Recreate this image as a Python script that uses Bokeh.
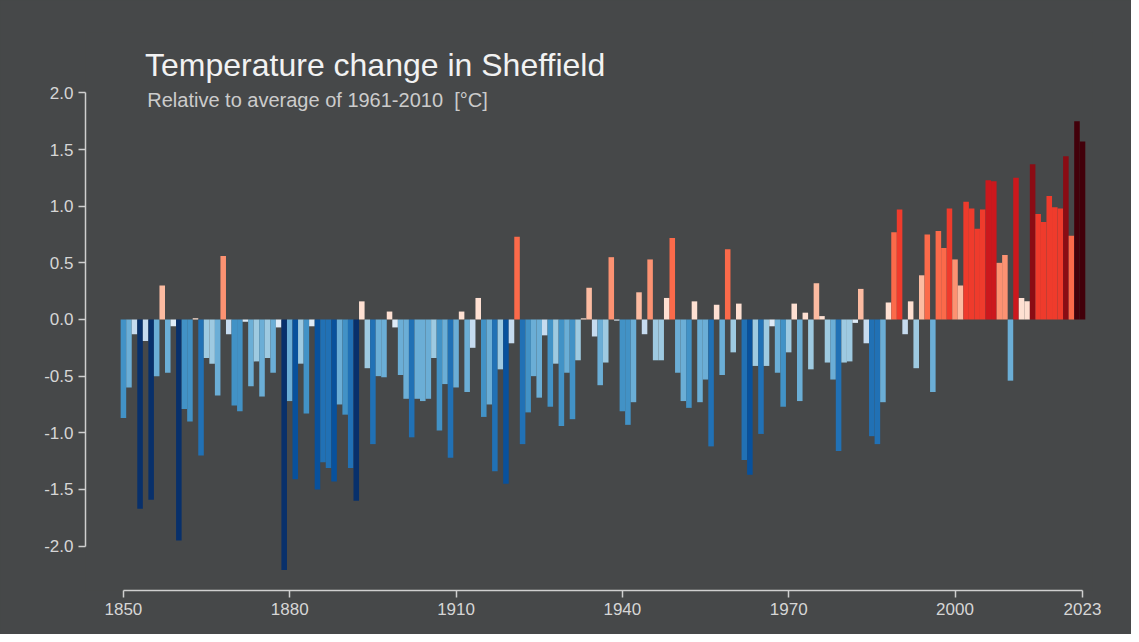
from bokeh.plotting import figure
from bokeh.models import (ColumnDataSource, LinearColorMapper, Range1d, FixedTicker, Label)
from bokeh.embed import file_html
from bokeh.resources import INLINE

# ---------------- data ----------------
years = list(range(1850, 2024))
temps = [
    -0.87, -0.60, -0.13, -1.67, -0.19, -1.59, -0.50, 0.30, -0.47, -0.06,   # 1850s
    -1.95, -0.79, -0.90, 0.01, -1.20, -0.34, -0.39, -0.67, 0.56, -0.13,    # 1860s
    -0.76, -0.81, -0.02, -0.59, -0.37, -0.68, -0.34, -0.47, -0.07, -2.21,  # 1870s
    -0.72, -1.41, -0.39, -0.83, -0.06, -1.50, -1.26, -1.31, -1.43, -0.75,  # 1880s
    -0.84, -1.31, -1.60, 0.16, -0.43, -1.10, -0.50, -0.51, 0.07, -0.07,    # 1890s
    -0.49, -0.70, -1.04, -0.70, -0.72, -0.70, -0.34, -0.98, -0.57, -1.22,  # 1900s
    -0.60, 0.07, -0.64, -0.25, 0.19, -0.86, -0.75, -1.34, -0.44, -1.45,    # 1910s
    -0.21, 0.73, -1.10, -0.82, -0.50, -0.69, -0.14, -0.77, -0.39, -0.94,   # 1920s
    -0.47, -0.88, -0.36, 0.01, 0.28, -0.15, -0.58, -0.38, 0.55, -0.01,     # 1930s
    -0.81, -0.93, -0.73, 0.24, -0.13, 0.53, -0.36, -0.36, 0.19, 0.72,      # 1940s
    -0.47, -0.72, -0.78, 0.16, -0.73, -0.53, -1.12, 0.13, -0.49, 0.62,     # 1950s
    -0.29, 0.14, -1.24, -1.37, -0.41, -1.01, -0.41, -0.06, -0.47, -0.77,   # 1960s
    -0.29, 0.14, -0.72, 0.06, -0.44, 0.32, 0.03, -0.38, -0.53, -1.16,      # 1970s
    -0.38, -0.37, -0.03, 0.27, -0.21, -1.03, -1.10, -0.73, 0.15, 0.77,     # 1980s
    0.97, -0.13, 0.16, -0.43, 0.39, 0.75, -0.64, 0.78, 0.63, 0.98,         # 1990s
    0.53, 0.30, 1.04, 0.98, 0.80, 0.97, 1.23, 1.22, 0.50, 0.57,            # 2000s
    -0.54, 1.25, 0.19, 0.16, 1.37, 0.93, 0.86, 1.09, 0.99, 0.98,           # 2010s
    1.44, 0.74, 1.75, 1.57,                                                # 2020s
]
x_ticks = [1850, 1880, 1910, 1940, 1970, 2000, 2023]
x_tick_labels = ["1850", "1880", "1910", "1940", "1970", "2000", "2023"]
y_ticks = [-2.0, -1.5, -1.0, -0.5, 0.0, 0.5, 1.0, 1.5, 2.0]
y_tick_labels = ["-2.0", "-1.5", "-1.0", "-0.5", "0.0", "0.5", "1.0", "1.5", "2.0"]
title_text = "Temperature change in Sheffield"
subtitle_text = "Relative to average of 1961-2010 \u00a0[\u00b0C]"

# ---------------- colour scale ----------------
classes = [
    (-1.55, "#08306b"), (-1.35, "#08519c"), (-1.00, "#2171b5"), (-0.75, "#4292c6"),
    (-0.45, "#6baed6"), (-0.25, "#9ecae1"), (-0.10, "#c6dbef"), (0.00, "#deebf7"),
    (0.20, "#fee0d2"), (0.45, "#fcbba1"), (0.60, "#fc9272"), (0.80, "#fb6a4a"),
    (1.15, "#ef3b2c"), (1.30, "#cb181d"), (1.50, "#8b0c14"), (9.99, "#42000a"),
]
LOW, HIGH, N = -1.6, 1.6, 64
palette = []
for i in range(N):
    c = LOW + (i + 0.5) * (HIGH - LOW) / N
    for edge, col in classes:
        if c < edge:
            palette.append(col)
            break
mapper = LinearColorMapper(palette=palette, low=LOW, high=HIGH,
                           low_color="#08306b", high_color="#42000a")

BG = "#464849"
AXIS = "#cfcfcf"
FONT = "Liberation Sans"

src = ColumnDataSource(dict(year=years, temp=temps))

p = figure(frame_width=1007, frame_height=558,
           x_range=Range1d(1843.16, 2024.8), y_range=Range1d(-2.392, 2.533),
           output_backend="svg", toolbar_location=None,
           min_border_left=85, min_border_right=39, min_border_top=32, min_border_bottom=44,
           background_fill_color=BG, border_fill_color=BG)
p.outline_line_color = None
p.styles = {"background-color": BG}

p.vbar(x="year", top="temp", bottom=0, width=1.0, source=src,
       fill_color={"field": "temp", "transform": mapper}, line_color=None)

p.grid.visible = False

for ax in (p.xaxis[0], p.yaxis[0]):
    ax.axis_line_color = AXIS
    ax.axis_line_width = 1.5
    ax.major_tick_line_color = AXIS
    ax.major_tick_line_width = 1.5
    ax.major_tick_in = 0
    ax.major_tick_out = 7
    ax.minor_tick_line_color = None
    ax.major_label_text_color = "#d6d6d6"
    ax.major_label_text_font = FONT
    ax.major_label_text_font_size = "17px"
    ax.major_label_standoff = 5

p.xaxis.ticker = FixedTicker(ticks=x_ticks)
p.xaxis.bounds = (1850, 2023)
p.xaxis.major_label_overrides = {t: l for t, l in zip(x_ticks, x_tick_labels)}

p.yaxis.ticker = FixedTicker(ticks=y_ticks)
p.yaxis.bounds = (-2, 2)
p.yaxis.major_label_overrides = {t: l for t, l in zip(y_ticks, y_tick_labels)}

p.add_layout(Label(x=1853.9, y=2.25, text=title_text, text_font=FONT,
                   text_font_size="32px", text_color="#f2f2f2",
                   text_baseline="alphabetic"))
p.add_layout(Label(x=1854.3, y=1.935, text=subtitle_text, text_font=FONT,
                   text_font_size="20px", text_color="#cccccc",
                   text_baseline="alphabetic"))

open("out.html", "w").write(file_html(p, INLINE))
